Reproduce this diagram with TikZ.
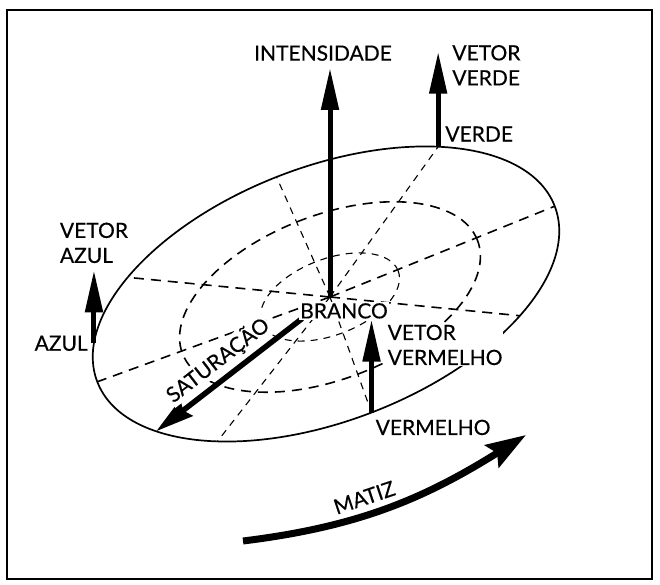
\documentclass[tikz,border=0pt]{standalone}
\usepackage{fontspec}
\setmainfont{Lato}[FakeBold=0.4]
\usetikzlibrary{
  arrows.meta,
  positioning,
  calc
}
\tikzset{
  rim/.style={line width=1.7pt},
  gridbold/.style={dash pattern=on 10pt off 7pt,line width=1.6pt},
  gridthin/.style={dash pattern=on 7pt off 6pt,line width=1.1pt},
  vecarrow/.style={line width=5pt,-{Triangle[length=42pt,width=17pt]}},
  satarrow/.style={line width=5.5pt,{Stealth[length=38pt,width=20pt,inset=4pt]}-},
  huearrow/.style={line width=7pt,-{Stealth[length=40pt,width=26pt,inset=6pt]}},
  tagtext/.style={inner sep=1pt,font=\fontsize{21}{25}\selectfont,align=left},
  tagmask/.style={tagtext,fill=white}
}

\begin{document}
\begin{tikzpicture}[x=1pt,y=1pt]
\useasboundingbox (0,0) rectangle (660,585);
\draw[line width=1.5pt] (7,6) rectangle (652,575);

% pontos na borda do disco
\begin{scope}[shift={(326,291)},rotate=21]
  \coordinate (e0) at (0:245 and 127);
  \coordinate (verde) at (50:245 and 127);
  \coordinate (e90) at (91:245 and 127);
  \coordinate (e135) at (137:245 and 127);
  \coordinate (azul) at (163:245 and 127);
  \coordinate (e180) at (180:245 and 127);
  \coordinate (sat) at (212:245 and 127);
  \coordinate (e225) at (231:245 and 127);
  \coordinate (vermelho) at (270:245 and 127);
  \coordinate (e315) at (315:245 and 127);
\end{scope}
\coordinate (ctr) at (330,288);

% grade tracejada
\begin{scope}[shift={(330,288)},rotate=21]
  \draw[gridbold] (0,0) ellipse [x radius=158, y radius=82];
  \draw[gridthin] (0,0) ellipse [x radius=73, y radius=38];
\end{scope}
\foreach \p in {e0,e135,e180,e315}
  \draw[gridbold] (ctr) -- (\p);
\foreach \p in {verde,e90,e225,vermelho}
  \draw[gridthin] (ctr) -- (\p);

\begin{scope}[shift={(326,291)},rotate=21]
  \draw[rim] (0,0) ellipse [x radius=245, y radius=127];
\end{scope}

% vetores
\coordinate (inttip) at ([yshift=229pt]ctr);
\coordinate (verdetip) at ([yshift=95pt]verde);
\coordinate (azultip) at ([yshift=73pt]azul);
\coordinate (vermelhotip) at ([yshift=93pt]vermelho);
\coordinate (satstart) at ($(ctr)!0.16!(sat)$);
\coordinate (hue1) at (243,44);
\coordinate (hue2) at (526,150);

\draw[vecarrow] (ctr) -- (inttip);
\draw[vecarrow] (verde) -- (verdetip);
\draw[vecarrow] (azul) -- (azultip);
\draw[vecarrow] (vermelho) -- (vermelhotip);
\draw[satarrow] (sat) -- node[tagmask,sloped,above=4pt,pos=0.5] (satlabel) {SATURAÇÃO} (satstart);
\draw[huearrow] (hue1) to[out=7,in=212] node[tagtext,sloped,above=5pt,pos=0.42] (matiz) {MATIZ} (hue2);

% rotulos
\node[tagtext, above=6pt of inttip, xshift=-7pt] (intensidade) {INTENSIDADE};
\node[tagtext, right=13pt of verdetip, yshift=-13.5pt] (vetorverde) {VETOR\\VERDE};
\node[tagtext, above right=4pt and 6pt of verde] (verdelabel) {VERDE};
\node[tagtext, above=6pt of azultip] (vetorazul) {VETOR\\AZUL};
\node[tagtext, left=5pt of azul] (azullabel) {AZUL};
\node[tagmask, below=5pt of ctr, xshift=14pt] (branco) {BRANCO};
\node[tagmask, below right=4pt and 15pt of vermelhotip] (vetorvermelho) {VETOR\\VERMELHO};
\node[tagtext, below right=6pt and 3pt of vermelho] (vermelholabel) {VERMELHO};
\end{tikzpicture}
\end{document}
